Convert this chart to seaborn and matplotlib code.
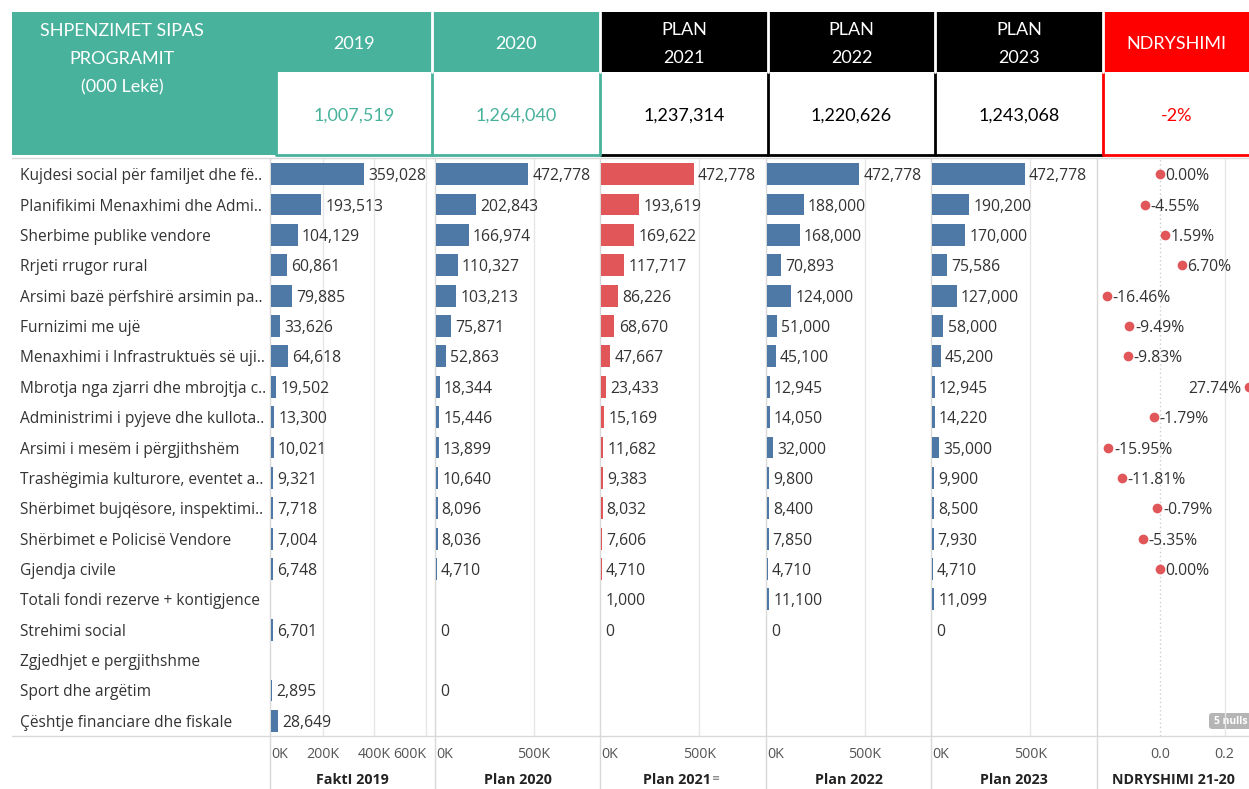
import numpy as np
import pandas as pd
import matplotlib
matplotlib.use("Agg")
import matplotlib.pyplot as plt
from matplotlib.patches import Rectangle, FancyBboxPatch
import seaborn as sns

nan = np.nan

# Te dhenat e grafikut
programs = [
    "Kujdesi social për familjet dhe fë..",
    "Planifikimi Menaxhimi dhe Admi..",
    "Sherbime publike vendore",
    "Rrjeti rrugor rural",
    "Arsimi bazë përfshirë arsimin pa..",
    "Furnizimi me ujë",
    "Menaxhimi i Infrastruktuës së uji..",
    "Mbrotja nga zjarri dhe mbrojtja c..",
    "Administrimi i pyjeve dhe kullota..",
    "Arsimi i mesëm i përgjithshëm",
    "Trashëgimia kulturore, eventet a..",
    "Shërbimet bujqësore, inspektimi..",
    "Shërbimet e Policisë Vendore",
    "Gjendja civile",
    "Totali fondi rezerve + kontigjence",
    "Strehimi social",
    "Zgjedhjet e pergjithshme",
    "Sport dhe argëtim",
    "Çështje financiare dhe fiskale",
]
fakti_2019 = [359028, 193513, 104129, 60861, 79885, 33626, 64618, 19502, 13300, 10021,
              9321, 7718, 7004, 6748, nan, 6701, nan, 2895, 28649]
plan_2020 = [472778, 202843, 166974, 110327, 103213, 75871, 52863, 18344, 15446, 13899,
             10640, 8096, 8036, 4710, nan, 0, nan, 0, nan]
plan_2021 = [472778, 193619, 169622, 117717, 86226, 68670, 47667, 23433, 15169, 11682,
             9383, 8032, 7606, 4710, 1000, 0, nan, nan, nan]
plan_2022 = [472778, 188000, 168000, 70893, 124000, 51000, 45100, 12945, 14050, 32000,
             9800, 8400, 7850, 4710, 11100, 0, nan, nan, nan]
plan_2023 = [472778, 190200, 170000, 75586, 127000, 58000, 45200, 12945, 14220, 35000,
             9900, 8500, 7930, 4710, 11099, 0, nan, nan, nan]
ndryshimi = [0.0, -0.0455, 0.0159, 0.0670, -0.1646, -0.0949, -0.0983, 0.2774, -0.0179,
             -0.1595, -0.1181, -0.0079, -0.0535, 0.0, nan, nan, nan, nan, nan]

header_label = "SHPENZIMET SIPAS\nPROGRAMIT\n(000 Lekë)"
header_titles = ["2019", "2020", "PLAN\n2021", "PLAN\n2022", "PLAN\n2023", "NDRYSHIMI"]
header_totals = ["1,007,519", "1,264,040", "1,237,314", "1,220,626", "1,243,068", "-2%"]
panel_titles = ["FaktI 2019", "Plan 2020", "Plan 2021", "Plan 2022", "Plan 2023", "NDRYSHIMI 21-20"]

TEAL = "#48B29C"
BLUE = "#4E79A7"
RED = "#E15759"
GRID = "#E6E6E6"
SEP = "#D9D9D9"

sns.set_theme(style="white")
plt.rcParams["font.family"] = ["Open Sans", "DejaVu Sans"]

W, H = 1249, 789
fig = plt.figure(figsize=(W / 100, H / 100), dpi=100)


def rect(x0, y0, x1, y1):
    return [x0 / W, 1 - y1 / H, (x1 - x0) / W, (y1 - y0) / H]


# sfondi: koka e tabeles dhe vijat ndarese
bg = fig.add_axes([0, 0, 1, 1])
bg.set_xlim(0, W)
bg.set_ylim(H, 0)
bg.axis("off")

cells = [276, 432, 600, 768, 935, 1103, 1260]
fills = [TEAL, TEAL, "black", "black", "black", "#FF0000"]
left_border = [TEAL, TEAL, TEAL, "black", "black", "#FF0000"]
hfont = ["Lato", "DejaVu Sans"]
hsize = 13

bg.add_patch(Rectangle((12, 12), 264, 143, color=TEAL, lw=0))
bg.text(122, 59, header_label, ha="center", va="center", color="white",
        fontsize=hsize, family=hfont, linespacing=1.95)
for i in range(6):
    x0, x1 = cells[i], cells[i + 1]
    bg.add_patch(Rectangle((x0, 12), x1 - x0, 60, color=fills[i], lw=0))
    bg.text((x0 + x1) / 2 - (5 if i == 5 else 0), 44, header_titles[i], ha="center",
            va="center", color="white", fontsize=hsize, family=hfont, linespacing=1.95)
    bg.text((x0 + x1) / 2 - (5 if i == 5 else 0), 116, header_totals[i], ha="center",
            va="center", color=fills[i], fontsize=hsize, family=hfont)
    bg.plot([x0, x1], [155, 155], color=fills[i], lw=2, solid_capstyle="butt")
    bg.plot([x0, x0], [72, 155], color=left_border[i], lw=2)
    if i > 0:
        bg.plot([x0, x0], [12, 72], color="white", lw=2)

bg.plot([12, W], [157.5, 157.5], color=SEP, lw=1)
bg.plot([12, W], [736, 736], color=SEP, lw=1)

# panelet
edges = [270, 435, 600, 766, 931, 1097, 1249]
for x in edges[:-1]:
    bg.plot([x, x], [158, H], color=SEP, lw=1)

bar_series = [fakti_2019, plan_2020, plan_2021, plan_2022, plan_2023]
bar_colors = [BLUE, BLUE, RED, BLUE, BLUE]
xmax = [635000, 840000, 840000, 840000, 840000]
ticks = [[0, 200000, 400000, 600000], [0, 500000], [0, 500000], [0, 500000], [0, 500000]]
title_x = [352, 518, 677, 849, 1014]

for k, series in enumerate(bar_series):
    ax = fig.add_axes(rect(edges[k] + 1, 159, edges[k + 1], 736))
    ax.set_facecolor("none")
    df = pd.DataFrame({"program": programs, "value": series})
    sns.barplot(data=df, x="value", y="program", order=programs, orient="h",
                color=bar_colors[k], width=0.72, errorbar=None, ax=ax,
                saturation=1, linewidth=0)
    for i, v in enumerate(series):
        if not np.isnan(v):
            ax.annotate(f"{v:,.0f}", xy=(v, i), xytext=(3, 0), textcoords="offset points",
                        ha="left", va="center_baseline", fontsize=11.3, color="#333333")
    ax.set_xlim(0, xmax[k])
    ax.set_ylim(len(programs) - 0.5, -0.5)
    for t in ticks[k][1:]:
        ax.axvline(t, color=GRID, lw=1, zorder=0)
    ax.set_xticks(ticks[k])
    ax.set_xticklabels([f"{t // 1000}K" for t in ticks[k]])
    ax.tick_params(axis="x", length=0, pad=8, labelsize=10.3, labelcolor="#555555")
    xl = ax.get_xticklabels()
    xl[0].set_ha("left")
    if k == 0:
        xl[-1].set_ha("right")
    ax.set_xlabel("")
    fig.text(title_x[k] / W, 1 - 780 / H, panel_titles[k], ha="center", va="center",
             fontsize=10.3, fontweight="bold", color="#222222")
    ax.set_ylabel("")
    if k == 0:
        ax.tick_params(axis="y", length=0, pad=181, labelsize=11.2, labelcolor="#333333")
        for lbl in ax.get_yticklabels():
            lbl.set_ha("left")
    else:
        ax.set_yticks([])
    sns.despine(ax=ax, left=True, bottom=True)

# paneli i ndryshimit
ax = fig.add_axes(rect(1098, 159, 1260, 736))
ax.set_facecolor("none")
dfn = pd.DataFrame({"program": programs, "change": ndryshimi})
ax.axvline(0, color="#CCCCCC", lw=1, ls=(0, (1, 2)), zorder=0)
ax.axvline(0.2, color=GRID, lw=1, zorder=0)
sns.stripplot(data=dfn, x="change", y="program", order=programs, orient="h",
              jitter=False, color=RED, size=7, linewidth=0, ax=ax, clip_on=False)
for i, v in enumerate(ndryshimi):
    if np.isnan(v):
        continue
    if v > 0.2:
        ax.annotate(f"{v:.2%}", xy=(v, i), xytext=(-6, 0), textcoords="offset points",
                    ha="right", va="center_baseline", fontsize=11.3, color="#333333")
    else:
        ax.annotate(f"{v:.2%}", xy=(v, i), xytext=(4, 0), textcoords="offset points",
                    ha="left", va="center_baseline", fontsize=11.3, color="#333333")
ax.set_xlim(-0.192, 0.31)
ax.set_ylim(len(programs) - 0.5, -0.5)
ax.set_xticks([0.0, 0.2])
ax.set_xticklabels(["0.0", "0.2"])
ax.tick_params(axis="x", length=0, pad=8, labelsize=10.3, labelcolor="#555555")
ax.set_yticks([])
ax.set_ylabel("")
ax.set_xlabel("")
sns.despine(ax=ax, left=True, bottom=True)
fig.text(1173 / W, 1 - 780 / H, panel_titles[5], ha="center", va="center",
         fontsize=10.3, fontweight="bold", color="#222222")

# etiketa "5 nulls" dhe ikona e renditjes
bg.add_patch(FancyBboxPatch((1209, 713), 46, 16, boxstyle="round,pad=0,rounding_size=3",
                            color="#B5B5B5", lw=0))
bg.text(1214, 721.5, "5 nulls", ha="left", va="center", fontsize=7.5,
        fontweight="bold", color="white")
bg.text(716, 778, "≡", ha="center", va="center", fontsize=7, color="#777777")

fig.savefig("out.png", dpi=100)
